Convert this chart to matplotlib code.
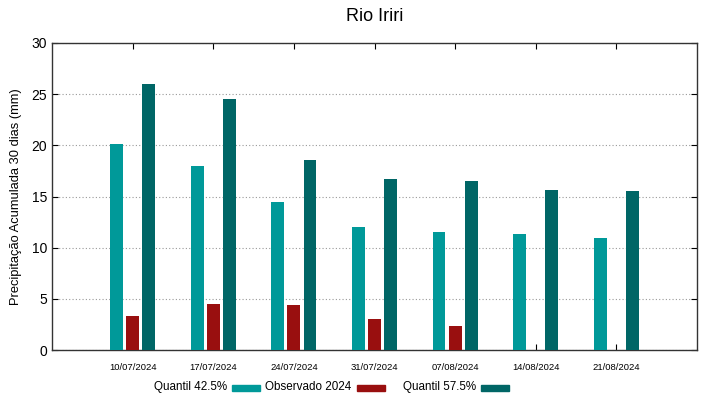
import numpy as np
import matplotlib
matplotlib.use("Agg")
import matplotlib.pyplot as plt
from matplotlib.patches import Rectangle

plt.rcParams["font.family"] = ["Liberation Sans", "DejaVu Sans"]

# dados
datas = ["10/07/2024", "17/07/2024", "24/07/2024", "31/07/2024",
         "07/08/2024", "14/08/2024", "21/08/2024"]
quantil_425 = [20.1, 18.0, 14.5, 12.0, 11.5, 11.3, 10.9]
observado = [3.3, 4.5, 4.4, 3.0, 2.3, np.nan, np.nan]
quantil_575 = [26.0, 24.5, 18.6, 16.7, 16.5, 15.6, 15.5]
nomes = ["Quantil 42.5%", "Observado 2024", "Quantil 57.5%"]

cor_q1 = "#009999"
cor_obs = "#990f0f"
cor_q2 = "#006666"
cores = [cor_q1, cor_obs, cor_q2]

W, H = 719, 399
fig = plt.figure(figsize=(W / 100, H / 100), dpi=100)
ax = fig.add_axes([52 / W, 1 - 350 / H, 645 / W, 307 / H])

x = np.arange(1, len(datas) + 1)
w = 0.16
ax.bar(x - 0.2, quantil_425, w, color=cor_q1, zorder=3)
ax.bar(x, observado, w, color=cor_obs, zorder=3)
ax.bar(x + 0.2, quantil_575, w, color=cor_q2, zorder=3)

ax.set_xlim(0, 8)
ax.set_ylim(0, 30)
ax.set_xticks(x)
ax.set_xticklabels(datas, fontsize=6.8)
ax.set_yticks(np.arange(0, 31, 5))
ax.tick_params(axis="y", labelsize=10, direction="in", right=True, length=4)
ax.tick_params(axis="x", direction="in", top=True, length=4, pad=9)
ax.yaxis.grid(True, linestyle=(0, (1, 2)), color="#999999", linewidth=0.8, zorder=0)
for s in ax.spines.values():
    s.set_color("#333333")
    s.set_linewidth(1)

ax.set_ylabel("Precipitação Acumulada 30 dias (mm)", fontsize=9.3, labelpad=7)
ax.set_title("Rio Iriri", fontsize=13, pad=16)

# legenda estilo gnuplot: texto alinhado à direita e amostra depois
for i, (nome, cor) in enumerate(zip(nomes, cores)):
    x0 = 227 + 124.5 * i
    fig.text(x0 / W, 12 / H, nome, ha="right", va="center", fontsize=8.4)
    fig.patches.append(Rectangle(((x0 + 5) / W, 8 / H), 28 / W, 6 / H,
                                 color=cor, transform=fig.transFigure))

fig.savefig("out.png", dpi=100)
